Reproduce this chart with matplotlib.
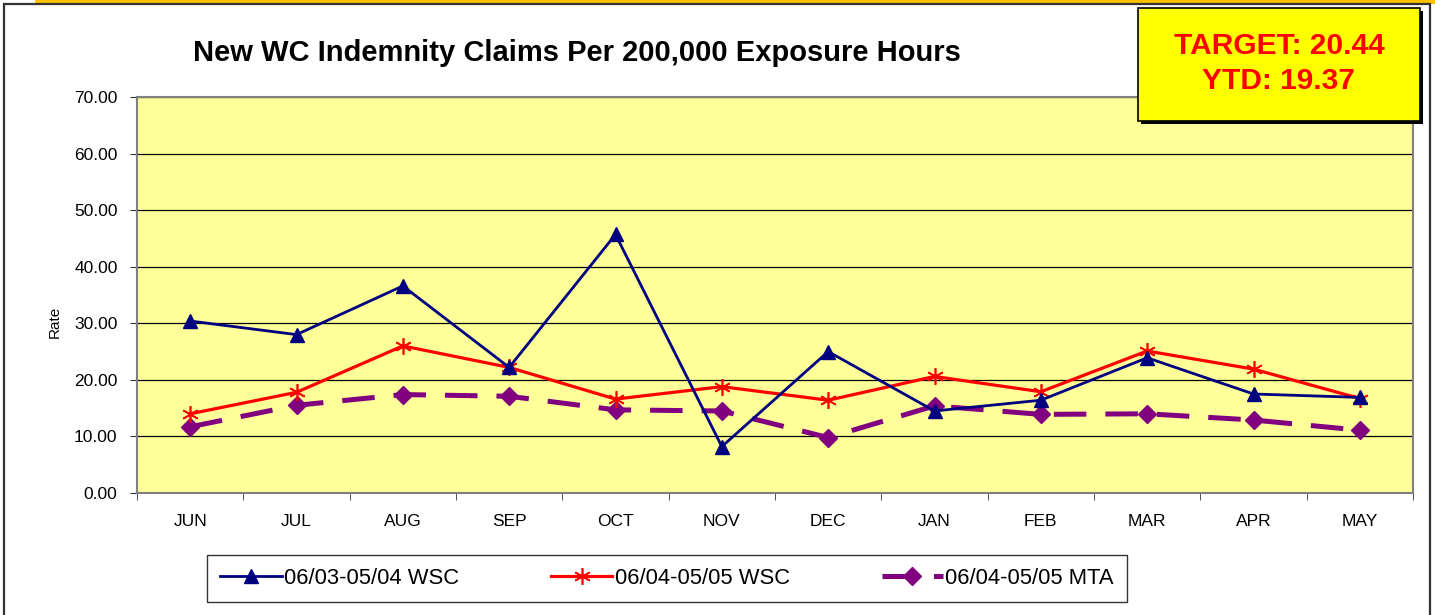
import matplotlib.pyplot as plt
from matplotlib.patches import Rectangle
from matplotlib.ticker import FixedLocator

# Data
months = ["JUN", "JUL", "AUG", "SEP", "OCT", "NOV", "DEC", "JAN", "FEB", "MAR", "APR", "MAY"]
wsc_0304 = [30.4, 28.0, 36.6, 22.2, 45.7, 8.2, 25.0, 14.5, 16.4, 23.9, 17.5, 16.9]
wsc_0405 = [14.0, 17.8, 26.0, 22.2, 16.6, 18.8, 16.4, 20.6, 17.9, 25.1, 21.9, 16.7]
mta_0405 = [11.7, 15.5, 17.4, 17.1, 14.7, 14.5, 9.8, 15.4, 13.9, 14.0, 12.9, 11.1]
series_labels = ["06/03-05/04 WSC", "06/04-05/05 WSC", "06/04-05/05 MTA"]
target_lines = ["TARGET: 20.44", "YTD: 19.37"]

plt.rcParams['font.family'] = ['Liberation Sans', 'DejaVu Sans']

W, H = 1435, 615
fig = plt.figure(figsize=(W / 100, H / 100), dpi=100)


def fx(px):
    return px / W


def fy(py):
    return 1 - py / H


# outer frame and top band
fig.patches.append(Rectangle((fx(35), fy(4)), fx(1400), 4 / H, transform=fig.transFigure,
                             facecolor="#FFC000", edgecolor="none", zorder=0))
fig.patches.append(Rectangle((fx(4), fy(640)), fx(1426), 636 / H, transform=fig.transFigure,
                             facecolor="white", edgecolor="#333333", lw=1.6, zorder=0))

ax = fig.add_axes([fx(137), fy(493), fx(1413 - 137), (493 - 97) / H])
ax.set_zorder(2)
ax.set_facecolor("#FFFF99")
x = list(range(len(months)))

ax.plot(x, wsc_0304, color="#000080", lw=2.0, marker="^", ms=10.5, label=series_labels[0], zorder=4)
ax.plot(x, wsc_0405, color="#FF0000", lw=2.3, marker=(6, 2, 0), ms=12, mew=1.2,
        label=series_labels[1], zorder=3)
ax.plot(x, mta_0405, color="#800080", lw=3.6, ls=(0, (6.5, 3.8)), marker="D", ms=9,
        label=series_labels[2], zorder=2)

ax.set_xlim(-0.5, len(months) - 0.5)
ax.set_ylim(0, 70)
ax.set_yticks(range(0, 71, 10))
ax.set_yticklabels([f"{v:.2f}" for v in range(0, 71, 10)], fontsize=12.5)
ax.set_xticks(x)
ax.set_xticklabels(months, fontsize=12.5)
ax.xaxis.set_minor_locator(FixedLocator([i - 0.5 for i in range(len(months) + 1)]))
ax.tick_params(axis="x", which="major", length=0, pad=15)
ax.tick_params(axis="x", which="minor", length=5, direction="out", color="#333333")
ax.tick_params(axis="y", length=5, direction="out", pad=9, color="#333333")
ax.grid(axis="y", color="black", lw=0.9)
ax.set_axisbelow(True)
for s in ax.spines.values():
    s.set_color("#808080")
    s.set_linewidth(1.5)

fig.text(fx(55), fy(322), "Rate", rotation=90, fontsize=11, ha="center", va="center")
fig.text(fx(577), fy(53), "New WC Indemnity Claims Per 200,000 Exposure Hours",
         fontsize=21, fontweight="bold", ha="center", va="center")

# target box with shadow
fig.patches.append(Rectangle((fx(1141), fy(124)), fx(282), 113 / H, transform=fig.transFigure,
                             facecolor="black", edgecolor="none", zorder=5))
fig.patches.append(Rectangle((fx(1138), fy(121)), fx(282), 113 / H, transform=fig.transFigure,
                             facecolor="#FFFF00", edgecolor="black", lw=1.2, zorder=6))
for line, ypx in zip(target_lines, [46, 81]):
    fig.text(fx(1279), fy(ypx), line, color="#FF0000", fontsize=21.5, fontweight="bold",
             ha="center", va="center", zorder=7)

leg = fig.legend(loc="center", bbox_to_anchor=(fx(207), fy(604), fx(920), 51 / H),
                 mode="expand", ncol=3, fontsize=15.8, frameon=True, fancybox=False,
                 edgecolor="black", handlelength=2.8, handletextpad=0.1, borderpad=0.6,
                 borderaxespad=0)
leg.get_frame().set_linewidth(1.0)

fig.savefig("out.png", dpi=100)
